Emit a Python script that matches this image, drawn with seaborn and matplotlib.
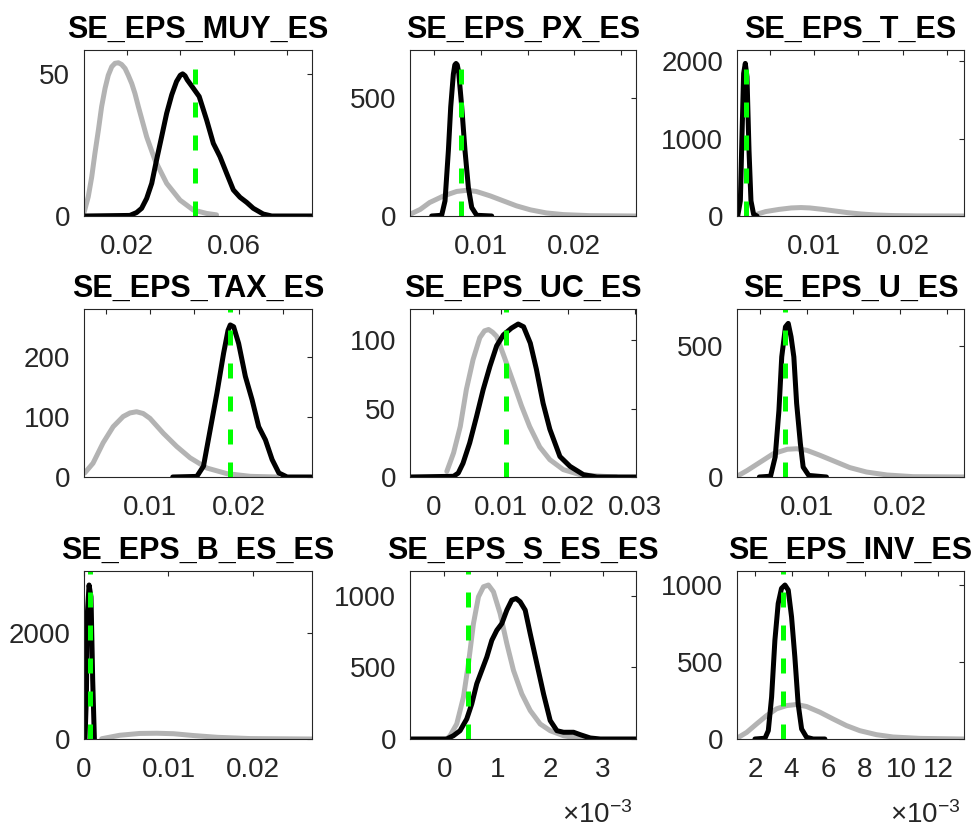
import matplotlib
matplotlib.use("Agg")
import matplotlib.pyplot as plt
import seaborn as sns

sns.set_theme(style="white")
plt.rcParams['font.family'] = ['Liberation Sans', 'DejaVu Sans']
plt.rcParams['mathtext.fontset'] = 'custom'
plt.rcParams['mathtext.rm'] = 'Liberation Sans'
plt.rcParams['mathtext.it'] = 'Liberation Sans:italic'
plt.rcParams['mathtext.bf'] = 'Liberation Sans:bold'

# ---------------- data ----------------
titles = ['SE_EPS_MUY_ES', 'SE_EPS_PX_ES', 'SE_EPS_T_ES',
          'SE_EPS_TAX_ES', 'SE_EPS_UC_ES', 'SE_EPS_U_ES',
          'SE_EPS_B_ES_ES', 'SE_EPS_S_ES_ES', 'SE_EPS_INV_ES']

# 1 MUY
muy_prior_x = [0.0040, 0.0055, 0.0068, 0.0080, 0.0093, 0.0105, 0.0118, 0.0130, 0.0143, 0.0155,
               0.0168, 0.0180, 0.0193, 0.0205, 0.0218, 0.0230, 0.0243, 0.0274, 0.0305, 0.0349,
               0.0399, 0.0449, 0.0499, 0.0536]
muy_prior_y = [1.5, 6.8, 13.8, 22.1, 30.3, 38.5, 45.0, 49.6, 52.6, 53.8,
               54.0, 53.4, 52.0, 49.6, 46.7, 43.2, 38.5, 27.9, 19.7, 11.5,
               5.6, 2.1, 0.9, 0.4]
muy_post_x = [0.0043, 0.0211, 0.0236, 0.0255, 0.0274, 0.0293, 0.0311, 0.0330, 0.0349, 0.0368,
              0.0386, 0.0400, 0.0409, 0.0418, 0.0426, 0.0446, 0.0471, 0.0499, 0.0524, 0.0549,
              0.0574, 0.0599, 0.0624, 0.0649, 0.0674, 0.0711, 0.0743, 0.0893]
muy_post_y = [0, 0.2, 1.2, 2.7, 6.2, 11.5, 19.7, 27.9, 36.2, 42.7,
              47.4, 49.6, 50.1, 49.4, 48.0, 45.4, 42.1, 33.8, 25.6, 20.9,
              15.0, 9.2, 6.6, 4.8, 2.7, 0.7, 0, 0]
muy_mode = 0.0455
muy_mode_top = 52.6

# 2 PX
px_prior_x = [0.0024, 0.0035, 0.0045, 0.0060, 0.0074, 0.0085, 0.0095, 0.0110, 0.0124, 0.0138,
              0.0153, 0.0170, 0.0188, 0.0217, 0.0266]
px_prior_y = [7, 28, 57, 85, 104, 109, 104, 85, 64, 43, 26, 13, 6, 1.4, 0]
px_post_x = [0.00472, 0.00579, 0.00615, 0.00651, 0.00676, 0.00704, 0.00720, 0.00733, 0.00746,
             0.00761, 0.00794, 0.00829, 0.00865, 0.00901, 0.00954, 0.01115]
px_post_y = [0, 3, 64, 277, 462, 600, 640, 646, 640, 610, 462, 277, 121, 36, 3, 0]
px_mode = 0.0079
px_mode_top = 632

# 3 T
t_prior_x = [0.0035, 0.0045, 0.0060, 0.0074, 0.0085, 0.0095, 0.0110, 0.0124, 0.0138, 0.0153,
             0.0170, 0.0188, 0.0217, 0.0269]
t_prior_y = [22, 57, 85, 104, 109, 104, 85, 64, 43, 26, 13, 6, 1.4, 0]
t_post_x = [0.00134, 0.00164, 0.00183, 0.00201, 0.00220, 0.00239, 0.00262, 0.00284, 0.00314, 0.00352]
t_post_y = [0, 195, 1060, 1840, 1970, 1797, 844, 195, 22, 0]
t_mode = 0.00224
t_mode_top = 1948

# 4 TAX
tax_prior_x = [0.00258, 0.00352, 0.00466, 0.00580, 0.00693, 0.00770, 0.00845, 0.00920, 0.00996,
               0.01148, 0.01299, 0.01451, 0.01640, 0.01867, 0.02133, 0.02436]
tax_prior_y = [6.7, 23, 57, 84, 101, 107, 109, 106, 98, 73, 51, 32, 15, 5.6, 1.1, 0]
tax_post_x = [0.01254, 0.01527, 0.01602, 0.01678, 0.01754, 0.01830, 0.01880, 0.01905, 0.01943,
              0.02000, 0.02076, 0.02152, 0.02227, 0.02303, 0.02379, 0.02455, 0.02549, 0.02822]
tax_post_y = [0, 1, 18, 79, 140, 207, 245, 254, 251, 223, 168, 129, 84, 62, 29, 6.7, 0, 0]
tax_mode = 0.01898
tax_mode_top = 290

# 5 UC
uc_prior_x = [0.0020, 0.0030, 0.0040, 0.0049, 0.0059, 0.0069, 0.0076, 0.0082, 0.0088, 0.0094,
              0.0106, 0.0119, 0.0131, 0.0143, 0.0158, 0.0173, 0.0193, 0.0218, 0.0252, 0.0272]
uc_prior_y = [4.1, 17.6, 37, 64, 86, 102, 107, 108, 106, 103, 87, 69, 52, 37, 22, 12.7, 5.4,
              1.7, 0.5, 0]
uc_post_x = [-0.00347, 0.0030, 0.0037, 0.0044, 0.0054, 0.0064, 0.0074, 0.0084, 0.0094, 0.0104,
             0.0116, 0.0126, 0.0134, 0.0144, 0.0153, 0.0163, 0.0173, 0.0188, 0.0203, 0.0223,
             0.0243, 0.0301]
uc_post_y = [0, 0.5, 2.9, 10, 25, 44, 64, 81, 96, 104, 109, 112, 110, 98, 79, 54, 35, 15, 7.8,
             1.7, 0, 0]
uc_mode = 0.0108
uc_mode_top = 130

# 6 U
u_prior_x = [0.0025, 0.0036, 0.0050, 0.0064, 0.0079, 0.0089, 0.0100, 0.0114, 0.0129, 0.0146,
             0.0164, 0.0186, 0.0214, 0.0269]
u_prior_y = [2.6, 25, 57, 89, 106, 108, 102, 83, 61, 36, 19, 7.7, 1.3, 0]
u_post_x = [0.0049, 0.0061, 0.0066, 0.0070, 0.0073, 0.0077, 0.0080, 0.0083, 0.0086, 0.0089,
            0.0093, 0.0096, 0.0102, 0.0121]
u_post_y = [0, 3, 77, 255, 459, 574, 587, 536, 459, 281, 128, 38, 6, 0]
u_mode = 0.0076
u_mode_top = 660

# 7 B_ES
b_prior_x = [0.0021, 0.0042, 0.0066, 0.0086, 0.0106, 0.0130, 0.0158, 0.0197, 0.0270]
b_prior_y = [5, 70, 105, 109, 100, 65, 32, 8, 0]
b_post_x = [0.00012, 0.00028, 0.00040, 0.00060, 0.00083, 0.00103, 0.00123]
b_post_y = [0, 800, 2380, 2915, 2690, 1117, 0]
b_mode = 0.00067
b_mode_top = 3300

# 8 S_ES
s_prior_x = [0.05e-3, 0.108e-3, 0.234e-3, 0.361e-3, 0.456e-3, 0.551e-3, 0.646e-3, 0.741e-3,
             0.835e-3, 0.930e-3, 1.057e-3, 1.184e-3, 1.310e-3, 1.468e-3, 1.627e-3, 1.816e-3,
             2.006e-3, 2.259e-3, 2.51e-3, 2.64e-3]
s_prior_y = [2, 23, 105, 292, 526, 806, 993, 1063, 1075, 1028, 876, 666, 479, 315, 199, 105,
             58, 23, 7, 0]
s_post_x = [-0.652e-3, 0.044e-3, 0.171e-3, 0.297e-3, 0.424e-3, 0.519e-3, 0.614e-3, 0.709e-3,
            0.804e-3, 0.899e-3, 0.994e-3, 1.089e-3, 1.184e-3, 1.278e-3, 1.361e-3, 1.437e-3,
            1.532e-3, 1.627e-3, 1.753e-3, 1.880e-3, 2.006e-3, 2.133e-3, 2.259e-3, 2.449e-3,
            2.576e-3, 2.766e-3, 2.956e-3, 3.633e-3]
s_post_y = [0, 0, 23, 58, 140, 245, 386, 479, 572, 689, 759, 806, 900, 970, 981, 958, 900,
            736, 526, 315, 129, 58, 47, 47, 30, 7, 0, 0]
s_mode = 0.443e-3
s_mode_top = 1250

# 9 INV
inv_prior_x = [1.04e-3, 1.55e-3, 2.09e-3, 2.64e-3, 3.18e-3, 3.73e-3, 4.27e-3, 4.82e-3, 5.55e-3,
               6.27e-3, 7.00e-3, 7.73e-3, 8.64e-3, 9.55e-3, 11.0e-3, 13.4e-3]
inv_prior_y = [6.5, 43, 98, 152, 196, 217, 224, 211, 174, 130, 87, 54, 28, 13, 4, 0]
inv_post_x = [2.00e-3, 2.55e-3, 2.73e-3, 2.91e-3, 3.09e-3, 3.27e-3, 3.45e-3, 3.64e-3, 3.82e-3,
              4.00e-3, 4.18e-3, 4.36e-3, 4.55e-3, 4.82e-3, 5.18e-3, 5.82e-3]
inv_post_y = [0, 5, 54, 272, 641, 880, 978, 1000, 967, 793, 533, 228, 65, 11, 0, 0]
inv_mode = 3.51e-3
inv_mode_top = 1150

# axis ranges and ticks
xlims = [(0.0039, 0.0894), (0.0024, 0.0266), (0.00126, 0.02695),
         (0.0025, 0.0283), (-0.00347, 0.0301), (0.0025, 0.02686),
         (0.0, 0.0270), (-0.652e-3, 3.633e-3), (1.02e-3, 13.42e-3)]
ylims = [58.5, 703, 2143, 280.6, 123, 642, 3180, 1173, 1091]
half = [0.005, 0.01, 0.015, 0.02, 0.025]
half_lab = ['', '0.01', '', '0.02', '']
xticks = [[0.02, 0.04, 0.06, 0.08], half, half, half, [0, 0.01, 0.02, 0.03], half,
          [0, 0.01, 0.02], [0, 1e-3, 2e-3, 3e-3], [2e-3, 4e-3, 6e-3, 8e-3, 10e-3, 12e-3]]
xticklabels = [['0.02', '', '0.06', ''], half_lab, half_lab, half_lab,
               ['0', '0.01', '0.02', '0.03'], half_lab, ['0', '0.01', '0.02'],
               ['0', '1', '2', '3'], ['2', '4', '6', '8', '10', '12']]
yticks = [[0, 50], [0, 500], [0, 1000, 2000], [0, 100, 200], [0, 50, 100], [0, 500],
          [0, 2000], [0, 500, 1000], [0, 500, 1000]]

priors = [(muy_prior_x, muy_prior_y), (px_prior_x, px_prior_y), (t_prior_x, t_prior_y),
          (tax_prior_x, tax_prior_y), (uc_prior_x, uc_prior_y), (u_prior_x, u_prior_y),
          (b_prior_x, b_prior_y), (s_prior_x, s_prior_y), (inv_prior_x, inv_prior_y)]
posts = [(muy_post_x, muy_post_y), (px_post_x, px_post_y), (t_post_x, t_post_y),
         (tax_post_x, tax_post_y), (uc_post_x, uc_post_y), (u_post_x, u_post_y),
         (b_post_x, b_post_y), (s_post_x, s_post_y), (inv_post_x, inv_post_y)]
modes = [(muy_mode, muy_mode_top), (px_mode, px_mode_top), (t_mode, t_mode_top),
         (tax_mode, tax_mode_top), (uc_mode, uc_mode_top), (u_mode, u_mode_top),
         (b_mode, b_mode_top), (s_mode, s_mode_top), (inv_mode, inv_mode_top)]
sci_panels = [7, 8]

# ---------------- figure ----------------
W, H = 975, 832
fig = plt.figure(figsize=(W / 100, H / 100), dpi=100)
cols = [(84, 228), (410, 226), (737, 227)]
rows = [(50, 166), (309, 168), (571, 168)]

GREY = '#b3b3b3'
GREEN = '#00ff00'
TXT = '#262626'
LW = 3.6

for i in range(9):
    r, c = divmod(i, 3)
    x0, w = cols[c]
    y0, h = rows[r]
    ax = fig.add_axes([x0 / W, 1 - (y0 + h) / H, w / W, h / H])

    px_, py_ = priors[i]
    qx_, qy_ = posts[i]
    m, mt = modes[i]
    sns.lineplot(x=px_, y=py_, ax=ax, color=GREY, linewidth=LW, estimator=None, sort=False,
                 solid_joinstyle='round')
    sns.lineplot(x=qx_, y=qy_, ax=ax, color='black', linewidth=LW, estimator=None, sort=False,
                 solid_joinstyle='round')
    sns.lineplot(x=[m, m], y=[0, mt], ax=ax, color=GREEN, linewidth=LW,
                 estimator=None, sort=False, linestyle=(0, (3.0, 3.6)))

    ax.set_xlim(*xlims[i])
    ax.set_ylim(0, ylims[i])
    ax.set_xticks(xticks[i], xticklabels[i])
    ax.set_yticks(yticks[i], [str(v) for v in yticks[i]])
    ax.set_xlabel('')
    ax.set_ylabel('')
    ax.tick_params(direction='in', length=3.5, width=0.8, top=True, right=True,
                   labelsize=20, colors=TXT)
    ax.tick_params(axis='x', pad=13)
    ax.tick_params(axis='y', pad=10)
    for sp in ax.spines.values():
        sp.set_linewidth(0.8)
        sp.set_color(TXT)
    ax.set_title(titles[i], fontsize=22, fontweight='bold', color='black', pad=9)

    if i in sci_panels:
        ax.text(1 - 3 / w, -(823 - (y0 + h)) / h, r'$\times\mathregular{10^{-3}}$',
                transform=ax.transAxes, ha='right', va='baseline', fontsize=20, color=TXT)

fig.savefig('out.png', dpi=100)
